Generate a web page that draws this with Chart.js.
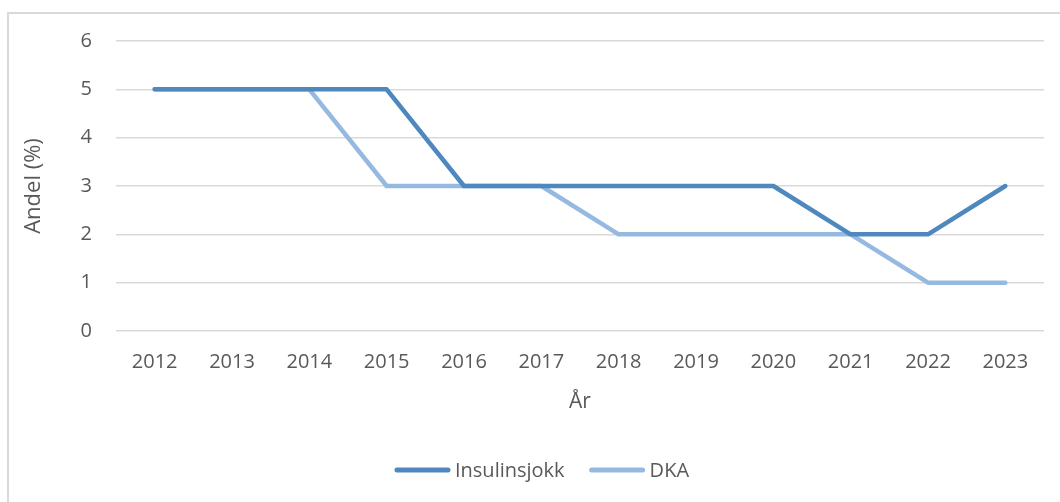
<!DOCTYPE html>
<html>
<head>
<meta charset="utf-8">
<script src="https://cdn.jsdelivr.net/npm/chart.js@4/dist/chart.umd.min.js"></script>
<style>
  html, body { margin: 0; padding: 0; background: #ffffff; overflow: hidden; }
  #wrap { position: relative; width: 1060px; height: 502px; }
  #frame { position: absolute; left: 7px; top: 12px; width: 1100px; height: 600px;
           border: 2px solid #d9d9d9; box-sizing: border-box; pointer-events: none; }
  canvas { position: absolute; left: 0; top: 0; }
</style>
</head>
<body>
<div id="wrap">
  <canvas id="c" width="1060" height="502"></canvas>
  <div id="frame"></div>
</div>
<script>
const years = ["2012","2013","2014","2015","2016","2017","2018","2019","2020","2021","2022","2023"];
const insulinsjokk = [5, 5, 5, 5, 3, 3, 3, 3, 3, 2, 2, 3];
const dka = [5, 5, 5, 3, 3, 3, 2, 2, 2, 2, 1, 1];
const yTicks = [0, 1, 2, 3, 4, 5, 6];

const FONT = "'Open Sans', 'Noto Sans', sans-serif";
const TXT = '#595959';

// Legend drawn below the axis, items taken from the chart's datasets
const lineLegend = {
  id: 'lineLegend',
  afterDraw(chart) {
    const ctx = chart.ctx;
    const cfg = { y: 470, center: 542, lineLen: 55, gap: 5, itemGap: 25, size: 20 };
    ctx.save();
    ctx.font = cfg.size + 'px ' + FONT;
    const items = chart.data.datasets.map(ds => ({
      text: ds.label, color: ds.borderColor, w: ctx.measureText(ds.label).width
    }));
    const total = items.reduce((s, it) => s + cfg.lineLen + cfg.gap + it.w, 0) + cfg.itemGap * (items.length - 1);
    let x = cfg.center - total / 2;
    ctx.textBaseline = 'middle';
    ctx.textAlign = 'left';
    items.forEach(it => {
      ctx.strokeStyle = it.color;
      ctx.lineWidth = 5;
      ctx.lineCap = 'round';
      ctx.beginPath();
      ctx.moveTo(x + 2, cfg.y);
      ctx.lineTo(x + cfg.lineLen - 2, cfg.y);
      ctx.stroke();
      x += cfg.lineLen + cfg.gap;
      ctx.fillStyle = TXT;
      ctx.fillText(it.text, x, cfg.y + 1);
      x += it.w + cfg.itemGap;
    });
    ctx.restore();
  }
};

new Chart(document.getElementById('c'), {
  type: 'line',
  data: {
    labels: years,
    datasets: [
      { label: 'Insulinsjokk', data: insulinsjokk, borderColor: '#4e88be', backgroundColor: '#4e88be',
        borderWidth: 4.5, pointRadius: 0, tension: 0, borderCapStyle: 'round', borderJoinStyle: 'round' },
      { label: 'DKA', data: dka, borderColor: '#95b9e1', backgroundColor: '#95b9e1',
        borderWidth: 4.5, pointRadius: 0, tension: 0, borderCapStyle: 'round', borderJoinStyle: 'round' }
    ]
  },
  plugins: [lineLegend],
  options: {
    responsive: false,
    animation: false,
    events: [],
    layout: { padding: { top: 41, right: 16, bottom: 52, left: 0 } },
    plugins: {
      tooltip: { enabled: false },
      legend: { display: false }
    },
    scales: {
      x: {
        type: 'category',
        offset: true,
        grid: { display: false, drawTicks: false },
        border: { display: false },
        ticks: { color: TXT, font: { family: FONT, size: 20 }, padding: 19, maxRotation: 0 },
        title: { display: true, text: 'År', color: TXT, font: { family: FONT, size: 21 }, padding: { top: 0, bottom: 35 } },
        afterFit(scale) { scale.height = 119; }
      },
      y: {
        min: 0, max: 6,
        afterBuildTicks(scale) { scale.ticks = yTicks.map(v => ({ value: v })); },
        grid: { color: '#d9d9d9', lineWidth: 1.5, drawTicks: false },
        border: { display: false },
        ticks: { color: TXT, font: { family: FONT, size: 20 }, padding: 24 },
        title: { display: true, text: 'Andel (%)', color: TXT, font: { family: FONT, size: 22 }, padding: { top: 21, bottom: 0 } },
        afterFit(scale) { scale.width = 116; }
      }
    }
  }
});
</script>
</body>
</html>
